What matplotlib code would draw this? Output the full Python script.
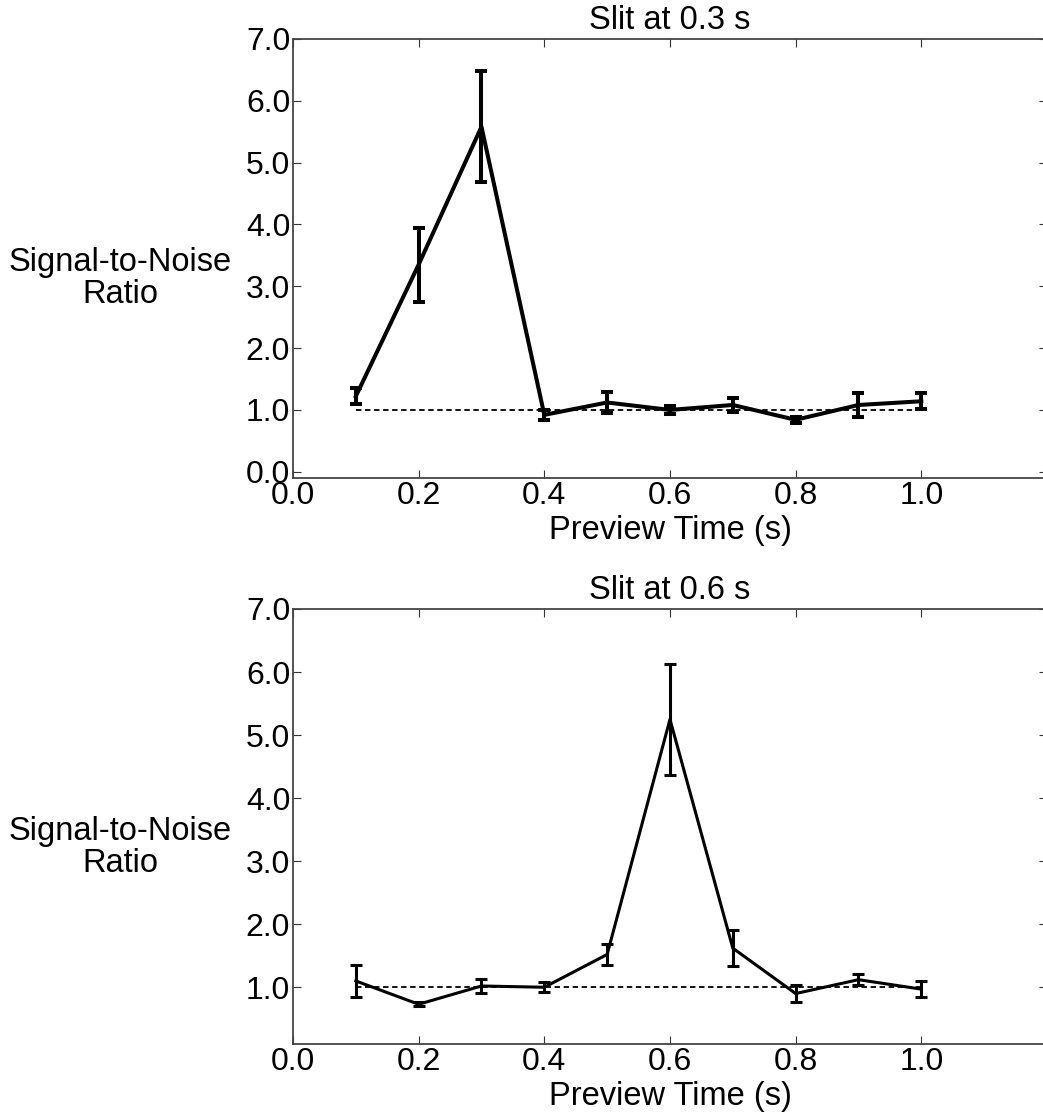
import numpy as np
import matplotlib
matplotlib.use('Agg')
import matplotlib.pyplot as plt

plt.rcParams['font.family'] = ['Liberation Sans', 'DejaVu Sans']

# preview times (s)
preview_time = [0.1, 0.2, 0.3, 0.4, 0.5, 0.6, 0.7, 0.8, 0.9, 1.0]

# slit at 0.3 s
snr_03 = [1.22, 3.35, 5.58, 0.92, 1.12, 1.00, 1.08, 0.84, 1.08, 1.14]
err_03 = [0.13, 0.60, 0.90, 0.08, 0.17, 0.07, 0.12, 0.05, 0.19, 0.13]

# slit at 0.6 s
snr_06 = [1.10, 0.73, 1.02, 1.00, 1.52, 5.25, 1.62, 0.90, 1.12, 0.97]
err_06 = [0.25, 0.03, 0.11, 0.08, 0.16, 0.88, 0.29, 0.13, 0.09, 0.13]

baseline = 1.0
x_ticks = [0.0, 0.2, 0.4, 0.6, 0.8, 1.0]

fig = plt.figure(figsize=(10.43, 11.18), dpi=100)
ax1 = fig.add_axes([0.2809, 0.5725, 0.7229, 0.3927])
ax2 = fig.add_axes([0.2809, 0.0662, 0.7229, 0.3891])

panels = [
    (ax1, snr_03, err_03, 'Slit at 0.3 s', (-0.1, 7.0), np.arange(0, 7.1, 1.0), 2.9, 0.455),
    (ax2, snr_06, err_06, 'Slit at 0.6 s', (0.1, 7.0), np.arange(1, 7.1, 1.0), 2.2, 0.452),
]

for ax, snr, err, title, ylim, yticks, lw, ylab_y in panels:
    # reference line at SNR = 1
    ax.plot([preview_time[0], preview_time[-1]], [baseline, baseline],
            color='black', lw=1.3, linestyle=(0, (3, 2)))
    ax.errorbar(preview_time, snr, yerr=err, fmt='-', color='black',
                lw=lw, elinewidth=lw, capsize=4, capthick=lw)

    ax.set_xlim(0, 1.2)
    ax.set_ylim(*ylim)
    ax.set_xticks(x_ticks)
    ax.set_yticks(yticks)
    ax.set_xticklabels([f'{t:.1f}' for t in x_ticks])
    ax.set_yticklabels([f'{t:.1f}' for t in yticks])
    ax.tick_params(direction='in', length=6, width=0.8, color='#333333',
                   top=True, right=True, labelsize=23)
    ax.tick_params(axis='y', pad=2)
    ax.tick_params(axis='x', pad=2)
    for sp in ax.spines.values():
        sp.set_color('#444444')
        sp.set_linewidth(1.3)

    ax.set_title(title, fontsize=23.5, pad=7)
    ax.set_xlabel('Preview Time (s)', fontsize=23.5, labelpad=3)
    ax.set_ylabel('Signal-to-Noise\nRatio', fontsize=23.5, rotation=0,
                  ha='center', va='center', linespacing=1.05)
    ax.yaxis.set_label_coords(-0.229, ylab_y)

fig.savefig('out.png', dpi=100)
